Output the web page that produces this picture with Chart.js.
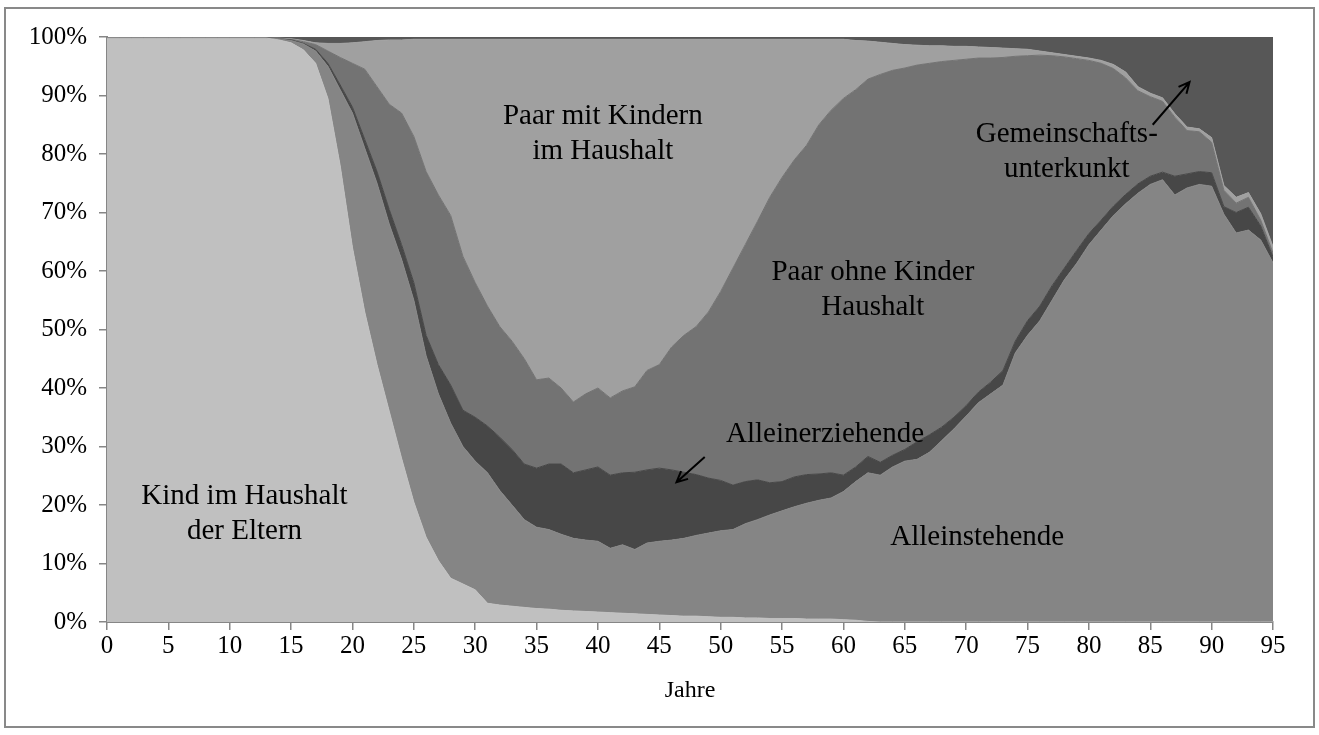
<!DOCTYPE html>
<html>
<head>
<meta charset="utf-8">
<script src="https://cdn.jsdelivr.net/npm/chart.js"></script>
<style>
  body { margin: 0; background: #fff; }
  #frame { position: absolute; left: 4px; top: 7px; width: 1311px; height: 721px; box-sizing: border-box; border: 2px solid #898989; pointer-events: none; }
  canvas { position: absolute; left: 0; top: 0; }
</style>
</head>
<body>
<canvas id="haushalt" width="1319" height="735"></canvas>
<div id="frame"></div>
<script>
// Alter 0..95
const ages = Array.from({length: 96}, (_, i) => i);

// Anteile in % je Alter
const kind = [
  99.8, 99.8, 99.8, 99.8, 99.8, 99.8, 99.8, 99.8, 99.8, 99.8,
  99.8, 99.8, 99.8, 99.8, 99.5, 99.0, 97.8, 95.5, 89.5, 78,
  64, 53, 44, 36, 28, 20.5, 14.5, 10.5, 7.5, 6.5,
  5.5, 3.2, 2.9, 2.7, 2.5, 2.3, 2.2, 2.0, 1.9, 1.8,
  1.7, 1.6, 1.5, 1.4, 1.3, 1.2, 1.1, 1.0, 1.0, 0.9,
  0.8, 0.8, 0.7, 0.7, 0.6, 0.6, 0.6, 0.5, 0.5, 0.5,
  0.4, 0.3, 0.1, 0, 0, 0, 0, 0, 0, 0,
  0, 0, 0, 0, 0, 0, 0, 0, 0, 0,
  0, 0, 0, 0, 0, 0, 0, 0, 0, 0,
  0, 0, 0, 0, 0, 0
];
const alleinstehend = [
  0, 0, 0, 0, 0, 0, 0, 0, 0, 0,
  0, 0, 0, 0, 0.2, 0.4, 1.0, 2.1, 5.5, 13,
  23, 28, 31, 32, 34, 34.5, 31, 28.5, 26.5, 23.5,
  22, 22.3, 19.6, 17.3, 15, 13.9, 13.6, 13, 12.4, 12.2,
  12.1, 11, 11.7, 11, 12.2, 12.6, 12.9, 13.3, 13.8, 14.3,
  14.8, 15, 16.1, 16.8, 17.7, 18.4, 19.1, 19.8, 20.3, 20.7,
  21.9, 23.7, 25.4, 25.1, 26.5, 27.5, 27.8, 29, 31, 33,
  35.2, 37.5, 39, 40.5, 46, 49, 51.5, 55, 58.5, 61.3,
  64.5, 67, 69.5, 71.5, 73.3, 74.8, 75.6, 73, 74.2, 74.8,
  74.5, 69.7, 66.5, 67, 65.3, 61.4
];
const alleinerziehend = [
  0, 0, 0, 0, 0, 0, 0, 0, 0, 0,
  0, 0, 0, 0, 0, 0.1, 0.1, 0.3, 0.5, 0.8,
  1.0, 1.5, 2, 2.5, 2.5, 3, 3.5, 5, 6.5, 6.2,
  7.5, 8, 9.1, 9.5, 9.5, 10.1, 11.2, 12, 11.2, 12,
  12.7, 12.5, 12.3, 13.2, 12.5, 12.5, 12, 11.3, 10.4, 9.4,
  8.6, 7.6, 7.2, 6.8, 5.5, 5, 5.1, 4.9, 4.5, 4.3,
  2.8, 2.5, 2.8, 2.2, 2.0, 2.0, 3.0, 3.0, 2.3, 2.0,
  1.8, 1.8, 2, 2.5, 2, 2.5, 2.5, 2.5, 2, 2.2,
  1.9, 1.7, 1.6, 1.6, 1.6, 1.4, 1.3, 3.2, 2.4, 2.2,
  2.3, 1.3, 3.5, 3.9, 2.4, 1.0
];
const paarOhne = [
  0, 0, 0, 0, 0, 0, 0, 0, 0, 0,
  0, 0, 0, 0, 0, 0.1, 0.3, 0.8, 2.1, 4.7,
  7.5, 12, 14.5, 18, 22.5, 25, 28, 29, 29, 26.3,
  23, 20.5, 18.9, 18.5, 18, 15.1, 14.7, 13, 12.1, 13,
  13.5, 13.2, 14, 14.6, 17, 17.7, 21, 23.4, 25.3, 28.4,
  32.3, 37.1, 40.5, 44.2, 48.8, 52, 54.2, 56.3, 59.7, 62,
  64.4, 64.5, 64.5, 66.3, 65.8, 65.2, 64.4, 63.5, 62.5, 61,
  59.2, 57.1, 55.4, 53.5, 48.7, 45.3, 42.9, 39.3, 36.1, 32.8,
  29.6, 26.8, 23.5, 19.9, 15.9, 13.6, 12.1, 10.1, 7.4, 6.8,
  5.2, 2.8, 1.6, 1.7, 1.0, 0.7
];
const paarMit = [
  0, 0, 0, 0, 0, 0, 0, 0, 0, 0,
  0, 0, 0, 0, 0.1, 0.1, 0.2, 0.3, 1.3, 2.4,
  3.5, 4.7, 7.9, 11, 12.5, 16.6, 22.6, 26.6, 30.1, 37.1,
  41.6, 45.6, 49.1, 51.6, 54.6, 58.2, 57.9, 59.6, 62, 60.6,
  59.6, 61.3, 60.1, 59.4, 56.6, 55.6, 52.6, 50.6, 49.1, 46.6,
  43.1, 39.1, 35.1, 31.1, 27, 23.6, 20.6, 18.1, 14.6, 12.1,
  10.1, 8.4, 6.5, 5.5, 4.6, 4.0, 3.4, 3.0, 2.7, 2.4,
  2.2, 1.9, 1.8, 1.6, 1.3, 1.1, 0.7, 0.5, 0.4, 0.4,
  0.4, 0.5, 0.7, 1.0, 0.7, 0.6, 0.6, 0.6, 0.6, 0.5,
  0.8, 0.8, 1.0, 0.8, 1.1, 1.1
];
const gemeinschaft = [
  0.2, 0.2, 0.2, 0.2, 0.2, 0.2, 0.2, 0.2, 0.2, 0.2,
  0.2, 0.2, 0.2, 0.2, 0.2, 0.3, 0.6, 1.0, 1.1, 1.1,
  1.0, 0.8, 0.6, 0.5, 0.5, 0.4, 0.4, 0.4, 0.4, 0.4,
  0.4, 0.4, 0.4, 0.4, 0.4, 0.4, 0.4, 0.4, 0.4, 0.4,
  0.4, 0.4, 0.4, 0.4, 0.4, 0.4, 0.4, 0.4, 0.4, 0.4,
  0.4, 0.4, 0.4, 0.4, 0.4, 0.4, 0.4, 0.4, 0.4, 0.4,
  0.4, 0.6, 0.7, 0.9, 1.1, 1.3, 1.4, 1.5, 1.5, 1.6,
  1.6, 1.7, 1.8, 1.9, 2.0, 2.1, 2.4, 2.7, 3.0, 3.3,
  3.6, 4.0, 4.7, 6.0, 8.5, 9.6, 10.4, 13.1, 15.4, 15.7,
  17.2, 25.4, 27.4, 26.6, 30.2, 35.8
];

const series = [
  {label: 'Kind im Haushalt der Eltern', data: kind, color: '#c0c0c0'},
  {label: 'Alleinstehende', data: alleinstehend, color: '#858585'},
  {label: 'Alleinerziehende', data: alleinerziehend, color: '#474747'},
  {label: 'Paar ohne Kinder Haushalt', data: paarOhne, color: '#737373'},
  {label: 'Paar mit Kindern im Haushalt', data: paarMit, color: '#a0a0a0'},
  {label: 'Gemeinschaftsunterkunft', data: gemeinschaft, color: '#575757'}
];

// Beschriftungen im Diagramm (Alter, Prozent der ersten Zeile)
const areaLabels = [
  {lines: ['Paar mit Kindern', 'im Haushalt'], age: 40.4, pct: 86.5},
  {lines: ['Kind im Haushalt', 'der Eltern'], age: 11.2, pct: 21.5},
  {lines: ['Paar ohne Kinder', 'Haushalt'], age: 62.4, pct: 59.8},
  {lines: ['Alleinerziehende'], age: 58.5, pct: 32.1},
  {lines: ['Alleinstehende'], age: 70.9, pct: 14.5},
  {lines: ['Gemeinschafts-', 'unterkunkt'], age: 78.2, pct: 83.4}
];
const arrows = [
  {from: [48.7, 28.2], to: [46.4, 23.9]},
  {from: [85.2, 85.0], to: [88.2, 92.3]}
];

const serif = '"Liberation Serif", "Times New Roman", serif';

const notes = {
  id: 'notes',
  afterDatasetsDraw(chart) {
    const {ctx, scales: {x, y}} = chart;
    ctx.save();
    ctx.fillStyle = '#000';
    ctx.font = '29px ' + serif;
    ctx.textAlign = 'center';
    ctx.textBaseline = 'middle';
    areaLabels.forEach(l => {
      l.lines.forEach((t, i) => {
        ctx.fillText(t, x.getPixelForValue(l.age), y.getPixelForValue(l.pct) + i * 35);
      });
    });
    ctx.strokeStyle = '#000';
    ctx.lineWidth = 2;
    arrows.forEach(a => {
      const x1 = x.getPixelForValue(a.from[0]), y1 = y.getPixelForValue(a.from[1]);
      const x2 = x.getPixelForValue(a.to[0]), y2 = y.getPixelForValue(a.to[1]);
      const ang = Math.atan2(y2 - y1, x2 - x1);
      const h = 12;
      ctx.beginPath();
      ctx.moveTo(x1, y1);
      ctx.lineTo(x2, y2);
      ctx.moveTo(x2 - h * Math.cos(ang - 0.45), y2 - h * Math.sin(ang - 0.45));
      ctx.lineTo(x2, y2);
      ctx.lineTo(x2 - h * Math.cos(ang + 0.45), y2 - h * Math.sin(ang + 0.45));
      ctx.stroke();
    });
    ctx.restore();
  }
};

new Chart(document.getElementById('haushalt'), {
  type: 'line',
  data: {
    labels: ages,
    datasets: series.map((s, i) => ({
      label: s.label,
      data: s.data,
      backgroundColor: s.color,
      borderColor: s.color,
      borderWidth: 1,
      pointRadius: 0,
      tension: 0,
      fill: i === 0 ? 'origin' : '-1'
    }))
  },
  options: {
    responsive: false,
    animation: false,
    devicePixelRatio: 1,
    layout: { padding: { top: 37, right: 46, bottom: 0, left: 0 } },
    plugins: {
      legend: { display: false },
      tooltip: { enabled: false }
    },
    scales: {
      x: {
        type: 'linear',
        min: 0,
        max: 95,
        ticks: { stepSize: 5, color: '#000', font: { family: serif, size: 25 }, padding: 1, maxRotation: 0 },
        grid: { drawOnChartArea: false, tickLength: 8, color: '#868686', lineWidth: 1.5 },
        border: { color: '#868686', width: 2 },
        title: { display: true, text: 'Jahre', color: '#000', font: { family: serif, size: 24 }, padding: { top: 4, bottom: 30 } },
        afterFit: s => { s.height = 113; }
      },
      y: {
        stacked: true,
        min: 0,
        max: 100,
        ticks: { stepSize: 10, color: '#000', font: { family: serif, size: 25 }, padding: 12, callback: v => v + '%' },
        grid: { drawOnChartArea: false, tickLength: 8, color: '#868686', lineWidth: 1.5 },
        border: { color: '#868686', width: 2 },
        afterFit: s => { s.width = 107; }
      }
    }
  },
  plugins: [notes]
});
</script>
</body>
</html>
